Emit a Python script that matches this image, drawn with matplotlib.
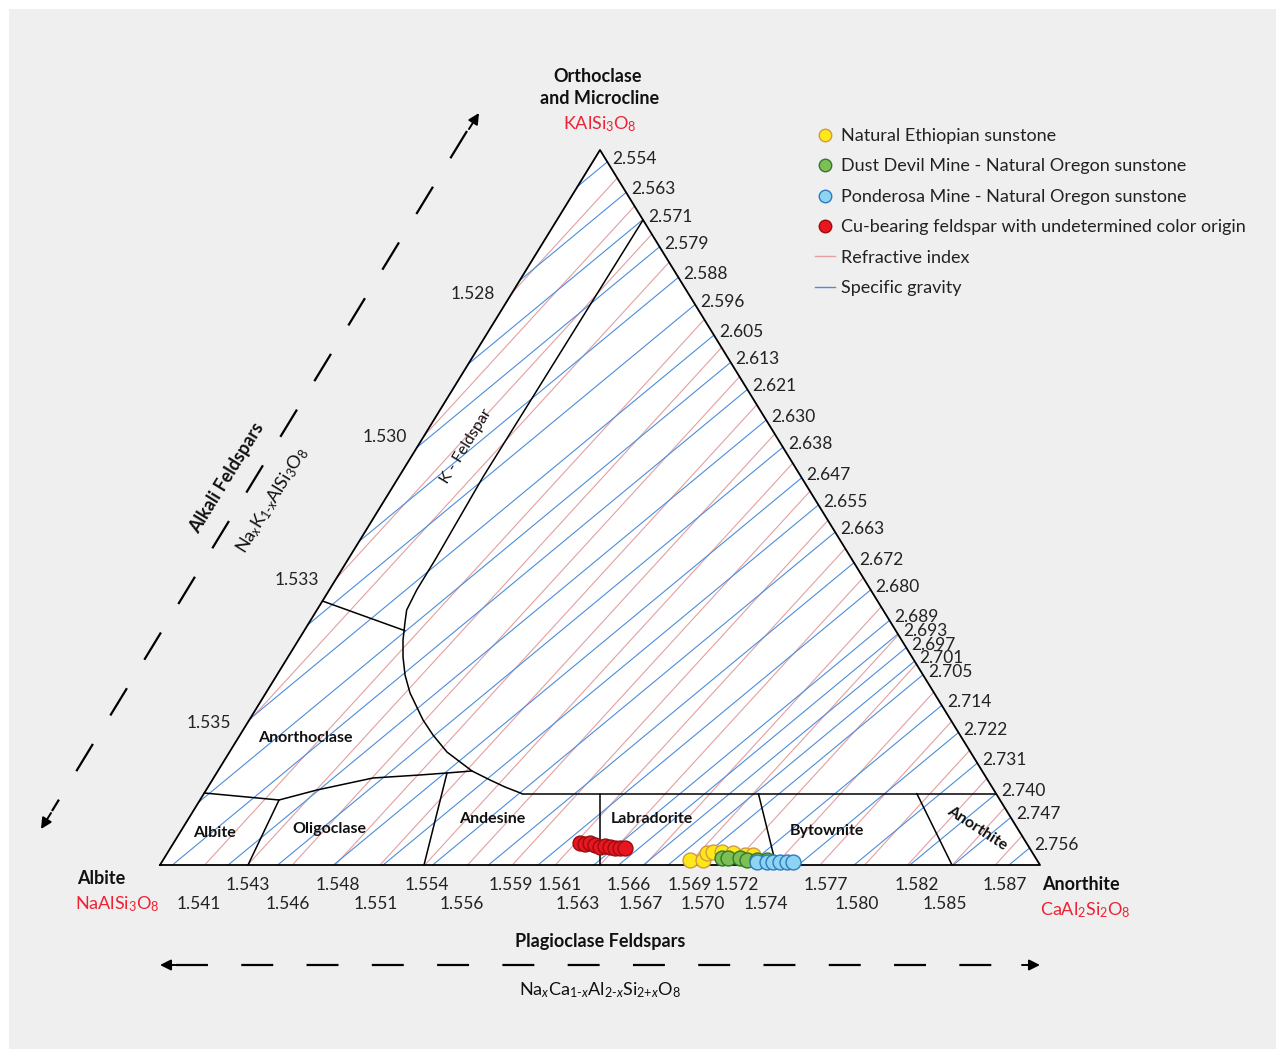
import numpy as np
import matplotlib
matplotlib.use('Agg')
import matplotlib.pyplot as plt
from matplotlib.patches import Polygon, Rectangle
from matplotlib.lines import Line2D

plt.rcParams['font.family'] = ['Lato', 'DejaVu Sans']
plt.rcParams['mathtext.fontset'] = 'custom'
plt.rcParams['mathtext.rm'] = 'Lato'
plt.rcParams['mathtext.it'] = 'Lato:italic'
plt.rcParams['mathtext.bf'] = 'Lato:bold'
plt.rcParams['lines.scale_dashes'] = False

# ---------------- data ----------------
# linear property models: value at each end-member (Ab, An, Or)
RI_VERTEX = {'Ab': 1.5377, 'An': 1.5889, 'Or': 1.5252}
SG_VERTEX = {'Ab': 2.619, 'An': 2.761, 'Or': 2.5505}

# refractive index iso-lines
ri_levels_left = [1.5277, 1.5302, 1.5327, 1.5352]
ri_labels_left = ['1.528', '1.530', '1.533', '1.535']
ri_levels_base = [1.5403, 1.5428, 1.5454, 1.5479, 1.5505, 1.5531, 1.5556,
                  1.5582, 1.5607, 1.5633, 1.5659, 1.5684, 1.5710, 1.5735,
                  1.5761, 1.5787, 1.5812, 1.5838, 1.5863]
# base tick labels (text, An fraction) in two rows
ri_row1_labels = ['1.543', '1.548', '1.554', '1.559', '1.561', '1.566',
                  '1.569', '1.572', '1.577', '1.582', '1.587']
ri_row1_an = [0.100, 0.202, 0.303, 0.399, 0.4545, 0.533, 0.602, 0.6557,
              0.7568, 0.860, 0.960]
ri_row2_labels = ['1.541', '1.546', '1.551', '1.556', '1.563', '1.567',
                  '1.570', '1.574', '1.580', '1.585']
ri_row2_an = [0.0443, 0.1455, 0.2455, 0.3432, 0.475, 0.5466, 0.617, 0.6886,
              0.792, 0.892]

# specific gravity iso-lines (labelled on Or-An edge)
sg_levels = [2.554, 2.563, 2.571, 2.579, 2.588, 2.596, 2.605, 2.613, 2.621,
             2.630, 2.638, 2.647, 2.655, 2.663, 2.672, 2.680, 2.689, 2.693,
             2.697, 2.701, 2.705, 2.714, 2.722, 2.731, 2.740, 2.747, 2.756]

# field boundaries (An, Or)
bnd_albite_anorthoclase = [(0.0, 0.1007), (0.0898, 0.0909)]
bnd_oligo_anorthoclase = [(0.0898, 0.0909), (0.1259, 0.1049), (0.1812, 0.1217),
                          (0.2325, 0.1259), (0.2618, 0.1287), (0.2888, 0.1315)]
bnd_kfeldspar = [(0.0978, 0.902), (0.0957, 0.5427), (0.0992, 0.4266),
                 (0.0994, 0.3846), (0.102, 0.3566), (0.1085, 0.3399),
                 (0.1188, 0.3147), (0.1307, 0.2909), (0.1456, 0.2657),
                 (0.1638, 0.2406), (0.1975, 0.2028), (0.2193, 0.1818),
                 (0.2471, 0.158), (0.2888, 0.1315), (0.3156, 0.1189),
                 (0.3375, 0.1091), (0.361, 0.1)]
bnd_anorthoclase_k = [(0.0, 0.3692), (0.1145, 0.3277)]
bnd_plag_top = [(0.361, 0.1), (0.9, 0.1)]
bnd_albite_oligo = [(0.1, 0.0), (0.0898, 0.0909)]
bnd_oligo_andesine = [(0.3, 0.0), (0.2618, 0.1287)]
bnd_andesine_labr = [(0.5, 0.0), (0.45, 0.1)]
bnd_labr_bytownite = [(0.7, 0.0), (0.63, 0.1)]
bnd_bytownite_anorthite = [(0.9, 0.0), (0.81, 0.1)]

# samples (An, Or)
eth_an = [0.5988, 0.6135, 0.6132, 0.6193, 0.6295, 0.6425, 0.6577, 0.6668]
eth_or = [0.007, 0.007, 0.0168, 0.0182, 0.0182, 0.0168, 0.014, 0.014]
dd_an = [0.6337, 0.6405, 0.6542, 0.6635, 0.6749, 0.6862]
dd_or = [0.0098, 0.0098, 0.0098, 0.007, 0.007, 0.007]
pm_an = [0.6763, 0.6877, 0.6945, 0.7025, 0.7104, 0.7172]
pm_or = [0.0042, 0.0042, 0.0042, 0.0042, 0.0042, 0.0042]
cu_an = [0.462, 0.468, 0.473, 0.480, 0.4875, 0.493, 0.4989, 0.505, 0.5108, 0.5165]
cu_or = [0.031, 0.030, 0.031, 0.028, 0.025, 0.026, 0.025, 0.024, 0.0238, 0.0238]

# ---------------- layout ----------------
X0, Y0, W, H = 160.0, 865.0, 880.0, 715.0
RED_TXT = '#ee2233'
RI_COLOR = '#e3a0a0'
SG_COLOR = '#4d8ddc'


def tern(an, orr):
    an = np.asarray(an, dtype=float)
    orr = np.asarray(orr, dtype=float)
    return X0 + an * W + orr * W / 2.0, Y0 - orr * H


VCOMP = {'Ab': (0.0, 0.0), 'An': (1.0, 0.0), 'Or': (0.0, 1.0)}
EDGES = [('Ab', 'An'), ('An', 'Or'), ('Or', 'Ab')]


def edge_point(vals, level, p, q):
    fp, fq = vals[p], vals[q]
    if fp == fq:
        return None
    t = (level - fp) / (fq - fp)
    if t < -1e-9 or t > 1 + 1e-9:
        return None
    a = np.array(VCOMP[p]); b = np.array(VCOMP[q])
    return a + t * (b - a)


def iso_segment(vals, level):
    pts = []
    for p, q in EDGES:
        pt = edge_point(vals, level, p, q)
        if pt is not None:
            if all(np.hypot(*(pt - o)) > 1e-6 for o in pts):
                pts.append(pt)
    return pts[:2]


fig = plt.figure(figsize=(12.78, 10.51), dpi=100)
fig.patch.set_facecolor('white')
ax = fig.add_axes([0, 0, 1, 1])
ax.set_xlim(0, 1278)
ax.set_ylim(1051, 0)
ax.axis('off')

ax.add_patch(Rectangle((9, 9), 1267, 1040, fc='#efefef', ec='none', zorder=0))

tx, ty = tern([0, 1, 0], [0, 0, 1])
ax.add_patch(Polygon(np.column_stack([tx, ty]), closed=True, fc='white',
                     ec='none', zorder=1))

# iso-lines
for lev in ri_levels_left + ri_levels_base:
    seg = iso_segment(RI_VERTEX, lev)
    if len(seg) == 2:
        sx, sy = tern([s[0] for s in seg], [s[1] for s in seg])
        ax.plot(sx, sy, color=RI_COLOR, lw=0.8, zorder=2)
for lev in sg_levels:
    seg = iso_segment(SG_VERTEX, lev)
    if len(seg) == 2:
        sx, sy = tern([s[0] for s in seg], [s[1] for s in seg])
        ax.plot(sx, sy, color=SG_COLOR, lw=0.8, zorder=2)

# boundaries
for b in [bnd_albite_anorthoclase, bnd_oligo_anorthoclase, bnd_kfeldspar,
          bnd_anorthoclase_k, bnd_plag_top, bnd_albite_oligo,
          bnd_oligo_andesine, bnd_andesine_labr, bnd_labr_bytownite,
          bnd_bytownite_anorthite]:
    bx, by = tern([p[0] for p in b], [p[1] for p in b])
    ax.plot(bx, by, color='black', lw=1.1, zorder=3, solid_capstyle='round')

# triangle outline
ax.plot(np.append(tx, tx[0]), np.append(ty, ty[0]), color='black', lw=1.3,
        zorder=3)

# labels on iso-lines
for lev, lab in zip(ri_levels_left, ri_labels_left):
    pt = edge_point(RI_VERTEX, lev, 'Or', 'Ab')
    px, py = tern(pt[0], pt[1])
    ax.text(px - 17, py + 1, lab, ha='right', va='center', fontsize=12.5,
            color='#222222', zorder=5)
for lab, a in zip(ri_row1_labels, ri_row1_an):
    px, py = tern(a, 0)
    ax.text(px, py + 20, lab, ha='center', va='center', fontsize=12.5,
            color='#222222', zorder=5)
for lab, a in zip(ri_row2_labels, ri_row2_an):
    px, py = tern(a, 0)
    ax.text(px, py + 39, lab, ha='center', va='center', fontsize=12.5,
            color='#222222', zorder=5)
for lev in sg_levels:
    pt = edge_point(SG_VERTEX, lev, 'An', 'Or')
    px, py = tern(pt[0], pt[1])
    ax.text(px + 5, py - 3, f'{lev:.3f}', ha='left', va='center',
            fontsize=12.5, color='#222222', zorder=5)

# samples
mk = dict(s=115, linewidths=1.0, zorder=4)
ex, ey = tern(eth_an, eth_or)
ax.scatter(ex, ey, c='#ffe81a', edgecolors='#d39a3c', **mk)
gx, gy = tern(dd_an, dd_or)
ax.scatter(gx, gy, c='#7dbf55', edgecolors='#2f7a2a', **mk)
bx_, by_ = tern(pm_an, pm_or)
ax.scatter(bx_, by_, c='#8fd3f2', edgecolors='#2b7cc0', **mk)
cx, cy = tern(cu_an, cu_or)
ax.scatter(cx, cy, c='#e8161e', edgecolors='#9a0c10', **mk)

# field names
fb = dict(fontsize=11.5, fontweight='bold', color='#111111', ha='center',
          va='center', zorder=5)
ax.text(214, 833, 'Albite', **fb)
ax.text(329, 829, 'Oligoclase', **fb)
ax.text(492, 819, 'Andesine', **fb)
ax.text(652, 819, 'Labradorite', **fb)
ax.text(827, 831, 'Bytownite', **fb)
ax.text(305, 738, 'Anorthoclase', **fb)
ax.text(466, 446, 'K - Feldspar', rotation=58.4, rotation_mode='anchor',
        fontsize=11.5, color='#111111', ha='center', va='center', zorder=5)
ax.text(977, 828, 'Anorthite', rotation=-33, rotation_mode='anchor', **fb)

# end-member labels
tb = dict(fontsize=13, fontweight='bold', color='#111111', ha='center',
          va='center', zorder=5)
ax.text(598, 77, 'Orthoclase', **tb)
ax.text(600, 99, 'and Microcline', **tb)
ax.text(600, 124, r'KAlSi$_3$O$_8$', fontsize=13, color=RED_TXT,
        ha='center', va='center')
ax.text(101, 879, 'Albite', **tb)
ax.text(117, 904, r'NaAlSi$_3$O$_8$', fontsize=13, color=RED_TXT,
        ha='center', va='center')
ax.text(1081, 885, 'Anorthite', **tb)
ax.text(1085, 910, r'CaAl$_2$Si$_2$O$_8$', fontsize=13, color=RED_TXT,
        ha='center', va='center')

# series labels
ax.text(227, 478, 'Alkali Feldspars', rotation=58.4, rotation_mode='anchor',
        fontsize=13, fontweight='bold', color='#111111', ha='center',
        va='center')
ax.text(272, 500, r'Na$_x$K$_{1\text{-}x}$AlSi$_3$O$_8$', rotation=58.4,
        rotation_mode='anchor', fontsize=13, color='#111111', ha='center',
        va='center')
ax.text(600, 941, 'Plagioclase Feldspars', fontsize=13, fontweight='bold',
        color='#111111', ha='center', va='center')
ax.text(600, 990,
        r'Na$_x$Ca$_{1\text{-}x}$Al$_{2\text{-}x}$Si$_{2\text{+}x}$O$_8$',
        fontsize=13, color='#111111', ha='center', va='center')

# dashed arrows
dash = (0, (23, 24))
ax.plot([176, 1024], [965, 965], color='black', lw=1.6, ls=dash)
ax.plot([467, 52], [131, 811], color='black', lw=1.6, ls=dash)
ap = dict(arrowstyle='-|>', color='black', lw=1.4, mutation_scale=16,
          shrinkA=0, shrinkB=0)
ax.annotate('', xy=(160, 965), xytext=(178, 965), arrowprops=ap)
ax.annotate('', xy=(1040, 965), xytext=(1022, 965), arrowprops=ap)
ax.annotate('', xy=(479, 113), xytext=(469, 129), arrowprops=ap)
ax.annotate('', xy=(41, 829), xytext=(51, 813), arrowprops=ap)

# legend
handles = [
    Line2D([], [], ls='', marker='o', ms=9, mfc='#ffe81a', mec='#d39a3c',
           label='Natural Ethiopian sunstone'),
    Line2D([], [], ls='', marker='o', ms=9, mfc='#7dbf55', mec='#2f7a2a',
           label='Dust Devil Mine - Natural Oregon sunstone'),
    Line2D([], [], ls='', marker='o', ms=9, mfc='#8fd3f2', mec='#2b7cc0',
           label='Ponderosa Mine - Natural Oregon sunstone'),
    Line2D([], [], ls='', marker='o', ms=9, mfc='#e8161e', mec='#9a0c10',
           label='Cu-bearing feldspar with undetermined color origin'),
    Line2D([], [], color=RI_COLOR, lw=1.0, label='Refractive index'),
    Line2D([], [], color=SG_COLOR, lw=1.0, label='Specific gravity'),
]
leg = ax.legend(handles=handles, loc='upper left',
                bbox_to_anchor=(815 / 1278, 1 - 128 / 1051),
                bbox_transform=fig.transFigure, frameon=False, fontsize=13,
                handlelength=1.1, handletextpad=0.35, labelspacing=0.8,
                borderpad=0, borderaxespad=0)
for t in leg.get_texts():
    t.set_color('#222222')

fig.savefig('out.png', dpi=100, facecolor='white')
